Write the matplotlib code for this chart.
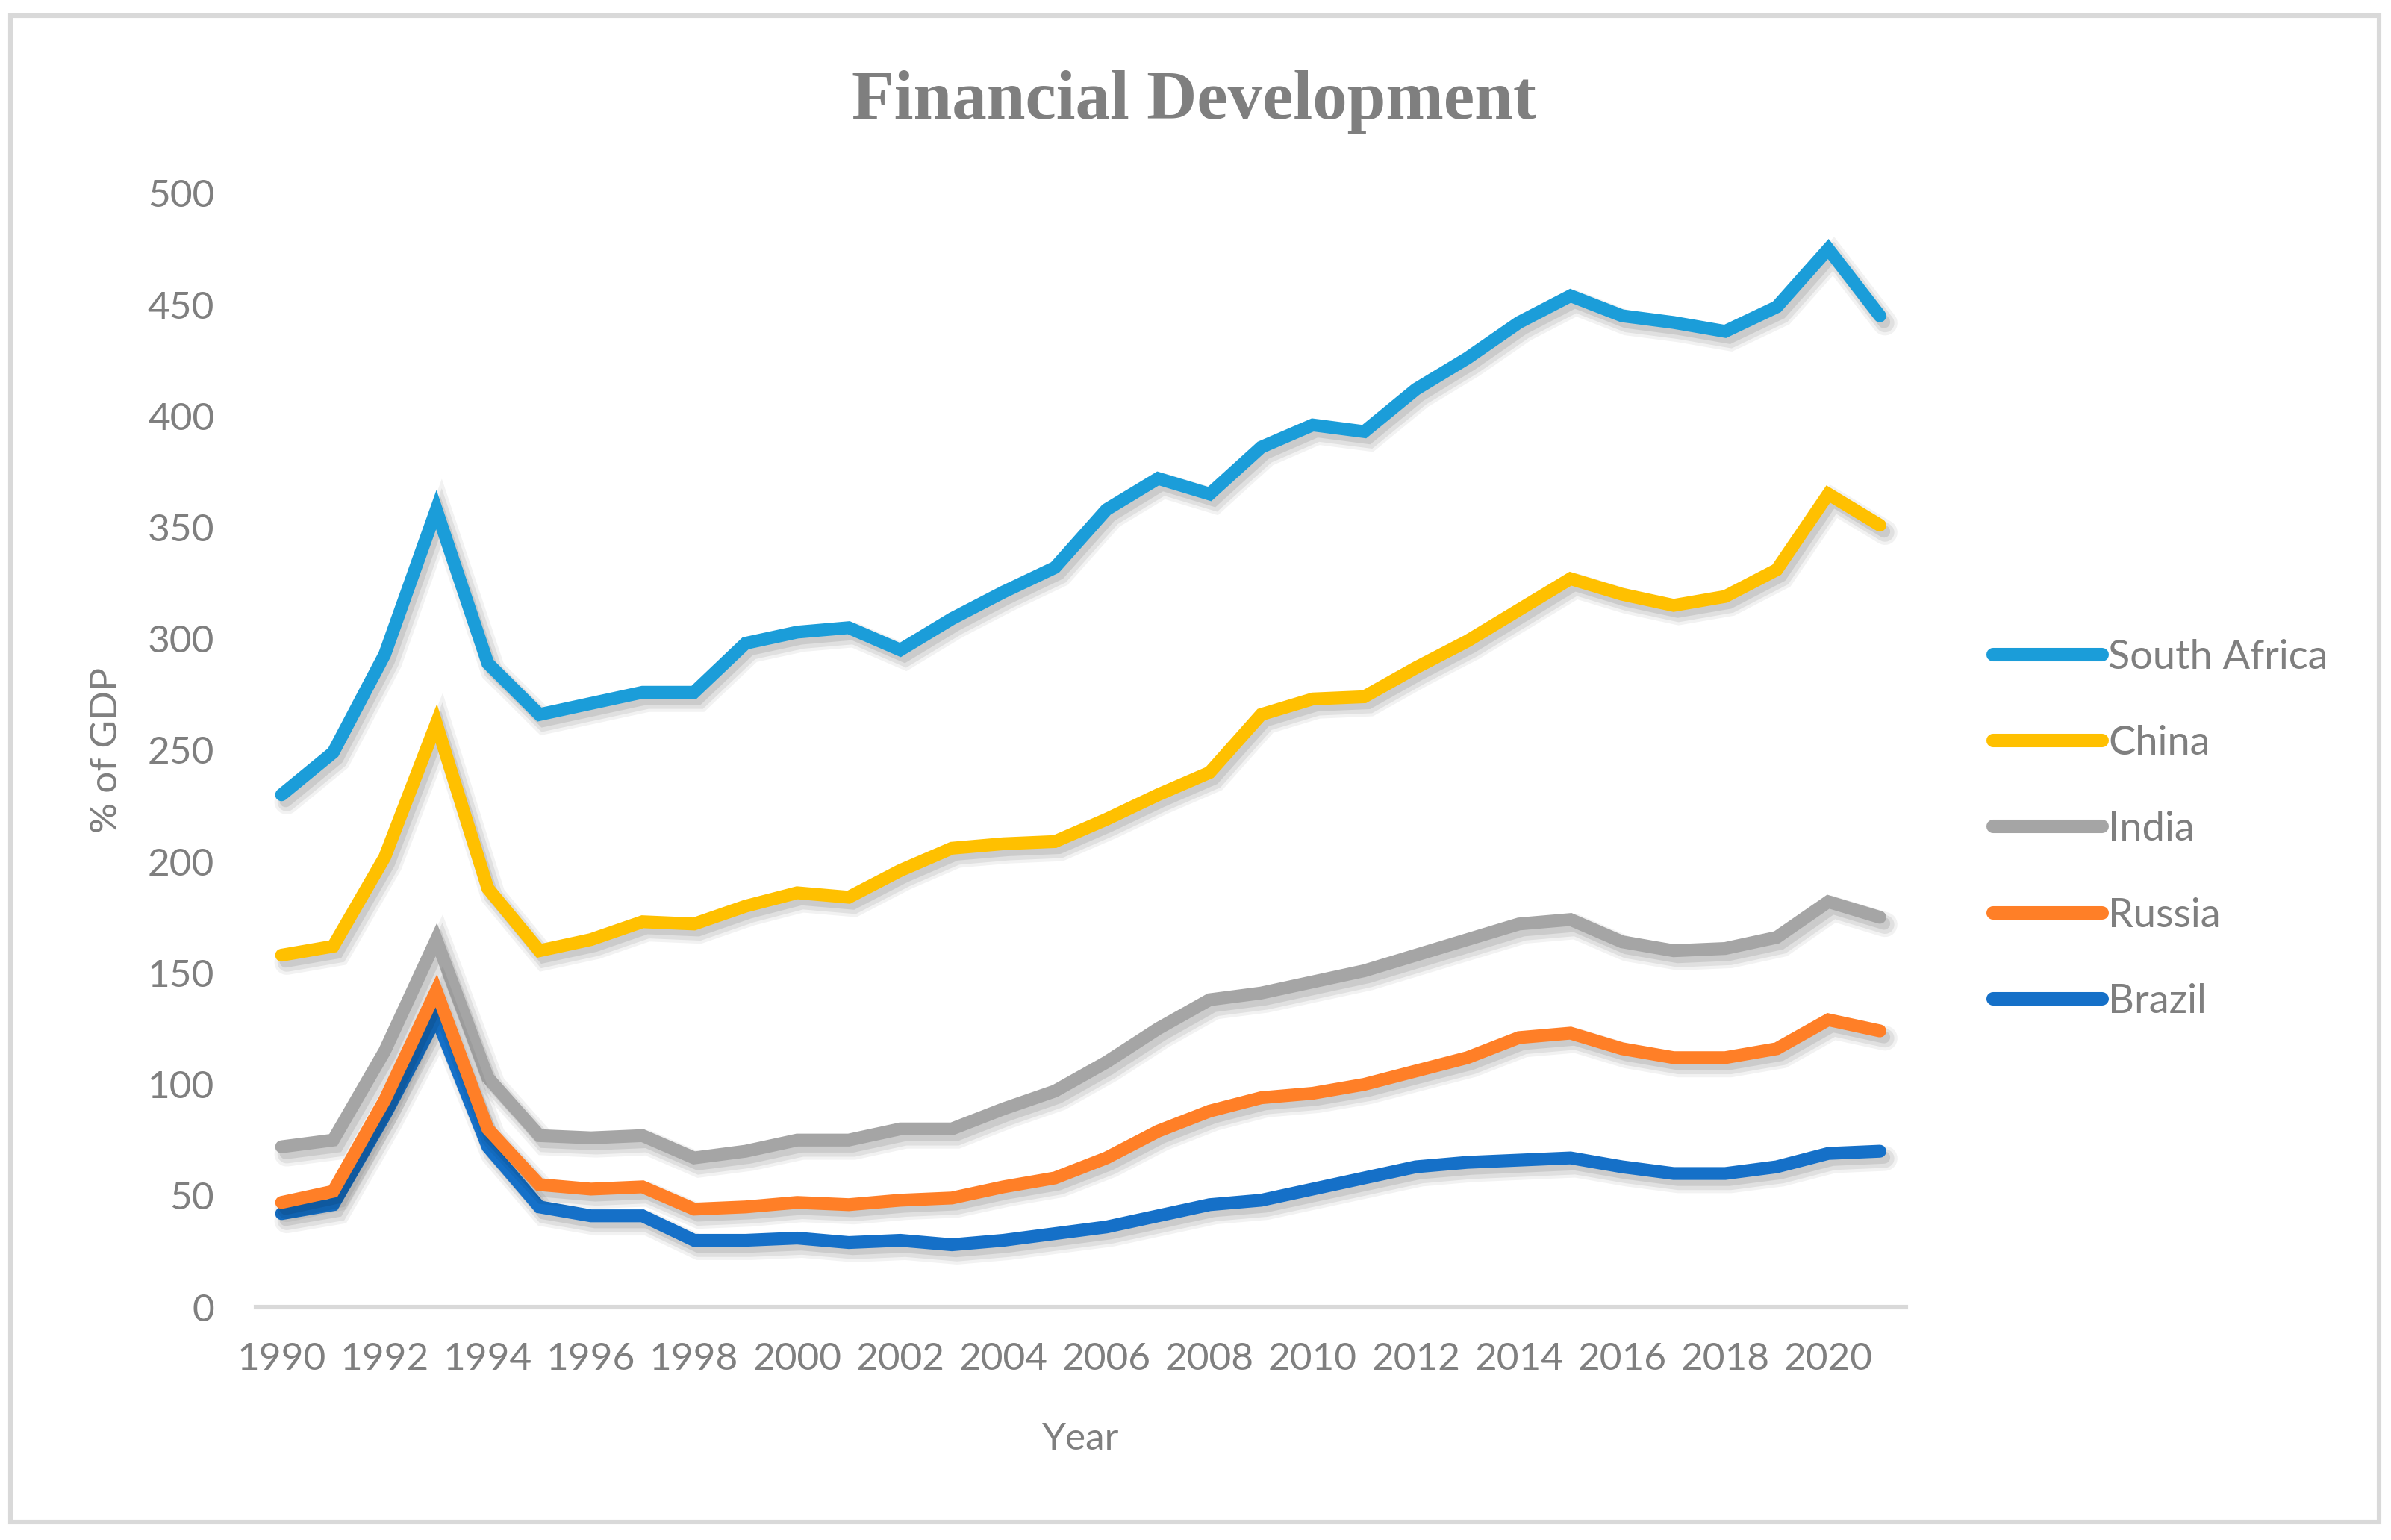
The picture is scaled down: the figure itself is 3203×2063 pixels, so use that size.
import numpy as np
import matplotlib
matplotlib.use('Agg')
import matplotlib.pyplot as plt
import matplotlib.patheffects as pe
from matplotlib.patches import Rectangle

# Data (% of GDP)
years = list(range(1990, 2022))
south_africa = [230, 249, 293, 358, 289, 266, 271, 276, 276, 298, 303, 305, 295, 309, 321, 332,
                358, 372, 365, 386, 396, 393, 412, 426, 442, 454, 445, 442, 438, 449, 475, 445]
china = [158, 162, 202, 262, 188, 160, 165, 173, 172, 180, 186, 184, 196, 206, 208, 209,
         219, 230, 240, 266, 273, 274, 287, 299, 313, 327, 320, 315, 319, 331, 365, 351]
india = [72, 75, 115, 165, 103, 77, 76, 77, 67, 70, 75, 75, 80, 80, 89, 97,
         110, 125, 138, 141, 146, 151, 158, 165, 172, 174, 164, 160, 161, 166, 182, 175]
russia = [47, 52, 93, 142, 80, 55, 53, 54, 44, 45, 47, 46, 48, 49, 54, 58,
          67, 79, 88, 94, 96, 100, 106, 112, 121, 123, 116, 112, 112, 116, 129, 124]
brazil = [42, 46, 86, 130, 72, 45, 41, 41, 30, 30, 31, 29, 30, 28, 30, 33,
          36, 41, 46, 48, 53, 58, 63, 65, 66, 67, 63, 60, 60, 63, 69, 70]

series = [
    ('South Africa', south_africa, '#1B9DD9'),
    ('China', china, '#FFC000'),
    ('India', india, '#A5A5A5'),
    ('Russia', russia, '#FF7F27'),
    ('Brazil', brazil, '#1570C8'),
]

TEXT = '#7f7f7f'
FONT = ['Lato', 'DejaVu Sans']

fig = plt.figure(figsize=(16.015, 10.315), dpi=200)
ax = fig.add_axes([0.107, 0.1512, 0.690, 0.7233])

# soft shadow under each line
shadow = [
    pe.SimpleLineShadow(offset=(2.5, -3.5), shadow_color='k', alpha=0.05, linewidth=12),
    pe.SimpleLineShadow(offset=(2.5, -3.5), shadow_color='k', alpha=0.07, linewidth=9),
    pe.SimpleLineShadow(offset=(2.0, -3.0), shadow_color='k', alpha=0.09, linewidth=6),
    pe.Normal(),
]

handles = []
zorders = {'South Africa': 5, 'China': 4, 'India': 2, 'Russia': 3.5, 'Brazil': 3}
for name, vals, col in series:
    ln, = ax.plot(years, vals, color=col, lw=6.2, solid_capstyle='round',
                  solid_joinstyle='miter', label=name, zorder=zorders[name],
                  path_effects=shadow)
    handles.append(ln)

ax.set_xlim(1989.5, 2021.5)
ax.set_ylim(0, 500)
ax.set_yticks(np.arange(0, 501, 50))
ax.set_xticks(years[::2])

for s in ['top', 'right', 'left']:
    ax.spines[s].set_visible(False)
ax.spines['bottom'].set_color('#d9d9d9')
ax.spines['bottom'].set_linewidth(2.2)
ax.tick_params(axis='both', length=0, colors=TEXT, labelsize=18.5)
ax.tick_params(axis='y', pad=20)
ax.tick_params(axis='x', pad=17)
for lab in ax.get_xticklabels() + ax.get_yticklabels():
    lab.set_family(FONT)

ax.set_xlabel('Year', color=TEXT, fontsize=18.5, family=FONT, labelpad=22)
fig.text(0.0445, 0.513, '% of GDP', rotation=90, color=TEXT, fontsize=18.5,
         family=FONT, ha='center', va='center')

fig.text(0.4995, 0.934, 'Financial Development', color=TEXT, fontsize=33.5,
         family='Liberation Serif', weight='bold', ha='center', va='center')

leg = fig.legend(handles=handles, loc='center left', bbox_to_anchor=(0.8336, 0.4615),
                 frameon=False, handlelength=2.7, handletextpad=0.15, labelspacing=1.22,
                 borderpad=0, borderaxespad=0, prop={'family': FONT, 'size': 19.5})
for t in leg.get_texts():
    t.set_color(TEXT)
for h in leg.legend_handles:
    h.set_path_effects([])
    h.set_linewidth(6.5)
    h.set_solid_capstyle('round')

# chart border
fig.patches.append(Rectangle((0.0045, 0.0115), 0.9905, 0.9785, transform=fig.transFigure,
                             fill=False, edgecolor='#d9d9d9', lw=2.2))

fig.savefig('out.png', dpi=200, facecolor='white')
